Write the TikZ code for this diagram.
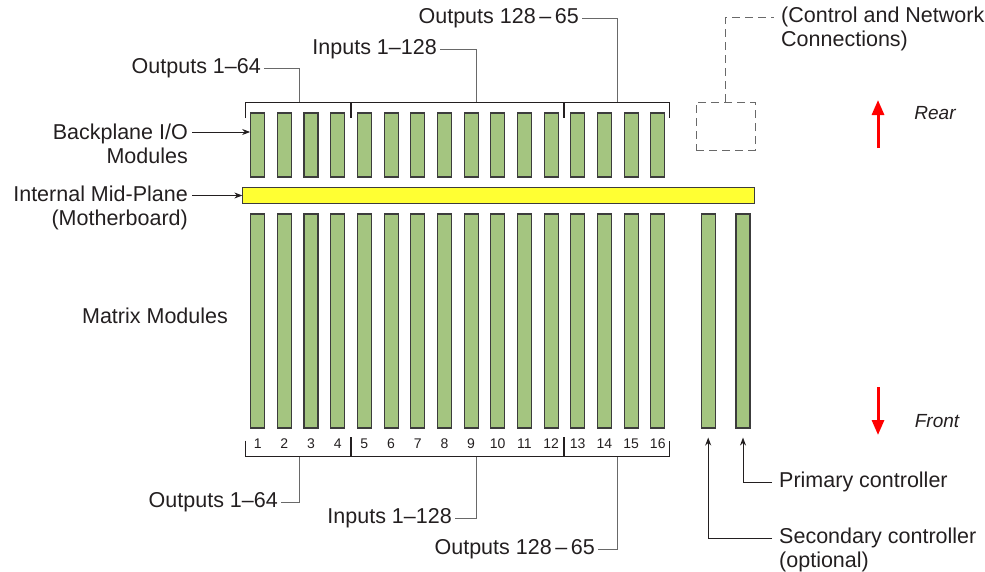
\documentclass[tikz,border=0pt]{standalone}
\usepackage{fontspec}
\setmainfont{Liberation Sans}
\usetikzlibrary{arrows.meta}
\definecolor{modgreen}{RGB}{164,197,128}
\definecolor{modedge}{RGB}{60,60,60}
\definecolor{inkgray}{RGB}{35,31,32}
\definecolor{leadgray}{RGB}{105,105,105}
\definecolor{planeyellow}{RGB}{255,255,51}

\begin{document}
\begin{tikzpicture}[x=1pt, y=-1pt,
	every node/.style={font=\fontsize{21.5}{24}\selectfont, text=inkgray, inner sep=3pt},
	module/.style={draw=modedge, line width=1.1pt, fill=modgreen, inner sep=0pt, minimum width=14pt},
	bracket/.style={draw=inkgray, line width=1.1pt},
	leader/.style={draw=leadgray, line width=1pt},
	ptr/.style={draw=inkgray, line width=0.9pt, -{Stealth[length=8pt,width=6pt]}},
	dashline/.style={draw=leadgray, line width=1pt, dash pattern=on 8pt off 5pt},
	updown/.style={draw=red, line width=3pt, -{Triangle[length=15pt,width=12pt]}}]
	\newcommand{\firstSlotX}{257.7}
	\newcommand{\slotPitch}{26.67}
	\useasboundingbox (0,0) rectangle (985,571);
	% Modules
	\foreach \i in {1,...,16} {
		\node[module, minimum height=64pt] (io\i) at (\firstSlotX+\slotPitch*\i-\slotPitch,145) {};
		\node[module, minimum height=214pt] (mx\i) at (\firstSlotX+\slotPitch*\i-\slotPitch,321) {};
		\node[font=\fontsize{14}{16}\selectfont, inner sep=0pt] (num\i) at (\firstSlotX+\slotPitch*\i-\slotPitch,444) {\i};
	}
	\node[module, minimum height=214pt] (ctlA) at (708.2,321) {};
	\node[module, minimum height=214pt] (ctlB) at (743,321) {};
	\node[draw=modedge, line width=1.1pt, fill=planeyellow, minimum width=512pt, minimum height=15.5pt, inner sep=0pt] (mid) at (498.9,195.5) {};
	\node[dashline, minimum width=59pt, minimum height=48pt, inner sep=0pt] (netBox) at (725.5,126) {};
	
	% Brackets above and below
	\foreach \yb/\ye/\yd in {102.3/118/118, 456.7/440.7/437} {
		\draw[bracket] (245.3,\ye) |- (669.3,\yb) -- (669.3,\ye);
		\draw[bracket, line width=1.6pt] (350.7,\yb) -- (350.7,\yd);
		\draw[bracket] (564,\yb) -- (564,\yd);
	}
	\coordinate (tieTopA) at (299,102.3);
	\coordinate (tieTopB) at (476.7,102.3);
	\coordinate (tieTopC) at (617.7,102.3);
	\coordinate (tieBotA) at (299,456.7);
	\coordinate (tieBotB) at (476.7,456.7);
	\coordinate (tieBotC) at (617.7,456.7);
	
	% Group labels
	\node[anchor=east] (topOutA) at (264,68) {Outputs 1--64};
	\node[anchor=east] (topIn) at (440,49) {Inputs 1--128};
	\node[anchor=east] (topOutB) at (582,18) {Outputs 128\,--\,65};
	\node[anchor=east] (botOutA) at (281,502) {Outputs 1--64};
	\node[anchor=east] (botIn) at (455,518) {Inputs 1--128};
	\node[anchor=east] (botOutB) at (598,549) {Outputs 128\,--\,65};
	\draw[leader] (topOutA.east) -| (tieTopA);
	\draw[leader] (topIn.east) -| (tieTopB);
	\draw[leader] (topOutB.east) -| (tieTopC);
	\draw[leader] (botOutA.east) -| (tieBotA);
	\draw[leader] (botIn.east) -| (tieBotB);
	\draw[leader] (botOutB.east) -| (tieBotC);
	
	% Left side
	\node[anchor=east, align=right] (bpLbl) at (191,144) {Backplane I/O\\Modules};
	\node[anchor=east, align=right] (mpLbl) at (191,207.5) {Internal Mid-Plane\\(Motherboard)};
	\node (mxLbl) at (155,316) {Matrix Modules};
	\path ([yshift=12pt]bpLbl.east) coordinate (bpTip);
	\path ([yshift=12pt]mpLbl.east) coordinate (mpTip);
	\draw[ptr, shorten <=1pt] (bpTip) -- (bpTip -| io1.west);
	\draw[ptr, shorten <=1pt] (mpTip) -- (mpTip -| mid.west);
	
	% Right side
	\node[anchor=west, align=left] (netLbl) at (778,29) {(Control and Network\\Connections)};
	\path ([yshift=12pt]netLbl.west) coordinate (netTip);
	\draw[dashline, shorten >=4pt] (netBox.north) |- (netTip);
	\node[anchor=west] (priLbl) at (776,482) {Primary controller};
	\node[anchor=west, align=left] (secLbl) at (776,550) {Secondary controller\\(optional)};
	\path ([yshift=12pt]secLbl.west) coordinate (secTip);
	\draw[ptr, shorten <=4pt, shorten >=9pt] (priLbl.west) -| (ctlB.south);
	\draw[ptr, shorten <=4pt, shorten >=9pt] (secTip) -| (ctlA.south);
	
	% Rear / front
	\node[font=\fontsize{19}{22}\itshape] (rearLbl) at (935,113) {Rear};
	\node[font=\fontsize{19}{22}\itshape] (frontLbl) at (937,421) {Front};
	\coordinate (rearTail) at (878,148);
	\coordinate (frontTail) at (878,387);
	\draw[updown] (rearTail) -- ++(0,-48);
	\draw[updown] (frontTail) -- ++(0,48);
\end{tikzpicture}
\end{document}
